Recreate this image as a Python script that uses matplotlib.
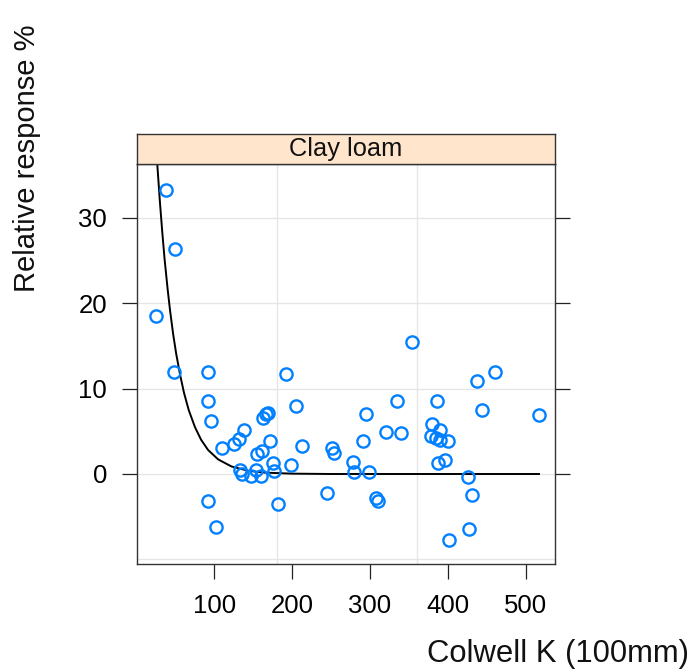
import matplotlib
matplotlib.use('Agg')
import matplotlib.pyplot as plt

plt.rcParams['font.family'] = ['Liberation Sans', 'DejaVu Sans']

# observed points: Colwell K (100mm) vs relative response %
colwell_k = [25, 37.5, 49, 47.5, 91.4, 91.4, 95.3, 91.4, 101.5, 109.8,
             125, 132, 138.5, 162, 166.5, 169.5, 172, 155, 161.6, 132.5,
             135.5, 147, 154, 160, 175, 176.6, 182.2, 191.8, 204.9, 198.3,
             212, 244.5, 251.1, 253.7, 277.7, 279, 291.4, 294.4, 298.2, 307.2,
             310.6, 320.9, 334.2, 340.2, 353.5, 379.2, 385.6, 378.3, 384.3, 389.9,
             389.9, 400.5, 387.7, 396.3, 425.4, 431.4, 426.7, 401.8, 437, 460.9,
             443.8, 517.4]
rel_response = [18.5, 33.3, 26.4, 12.0, 12.0, 8.6, 6.2, -3.2, -6.2, 3.0,
                3.5, 4.1, 5.2, 6.6, 7.0, 7.1, 3.9, 2.3, 2.7, 0.5,
                0.0, -0.2, 0.45, -0.2, 1.3, 0.3, -3.5, 11.7, 8.0, 1.1,
                3.25, -2.2, 3.0, 2.4, 1.45, 0.2, 3.9, 7.0, 0.2, -2.85,
                -3.2, 4.9, 8.6, 4.8, 15.5, 5.85, 8.6, 4.4, 4.2, 5.15,
                4.0, 3.9, 1.25, 1.6, -0.4, -2.5, -6.5, -7.7, 10.9, 12.0,
                7.5, 6.9]

# fitted response curve
curve_x = [25, 27, 30, 33, 36, 40, 43, 47, 51, 56, 61, 67, 75, 83, 92,
           105, 122, 144, 165, 200, 250, 517]
curve_y = [38.7, 35.8, 31.9, 28.4, 25.2, 21.6, 19.2, 16.4, 14.05, 11.6, 9.5,
           7.5, 5.5, 4.0, 2.8, 1.7, 0.88, 0.37, 0.16, 0.04, 0.0, 0.0]

x_ticks = [100, 200, 300, 400, 500]
y_ticks = [0, 10, 20, 30]
x_grid = [180, 360]
y_grid = [-10, 0, 10, 20, 30]
panel_title = 'Clay loam'

W, H = 689, 672
fig = plt.figure(figsize=(W / 100, H / 100), dpi=100)

# main panel and strip, placed in pixels
ax = fig.add_axes([137 / W, (H - 564) / H, 418 / W, 400 / H])
strip = fig.add_axes([137 / W, (H - 164) / H, 418 / W, 30 / H])

for gy in y_grid:
    ax.axhline(gy, color='#e6e6e6', lw=1, zorder=0)
for gx in x_grid:
    ax.axvline(gx, color='#e6e6e6', lw=1, zorder=0)

ax.plot(curve_x, curve_y, color='black', lw=1.4, zorder=2)
ax.plot(colwell_k, rel_response, 'o', mfc='none', mec='#0080ff',
        ms=8.8, mew=1.7, zorder=3)

ax.set_xlim(0.6, 537.6)
ax.set_ylim(-10.54, 36.3)
ax.set_xticks(x_ticks)
ax.set_yticks(y_ticks)
ax.tick_params(direction='out', length=11, width=0.9, pad=10.5,
               labelsize=18.5, colors='#222222', labelcolor='black',
               right=True, top=False)
for s in ax.spines.values():
    s.set_color('#333333')
    s.set_linewidth(1)

strip.set_facecolor('#ffe5cc')
strip.set_xticks([])
strip.set_yticks([])
for s in strip.spines.values():
    s.set_color('#333333')
    s.set_linewidth(1)
strip.text(0.5, 0.5, panel_title, ha='center', va='center',
           fontsize=18.3, color='#111111', transform=strip.transAxes)

fig.text(27.5 / W, 1 - 158 / H, 'Relative response %', rotation=90,
         ha='center', va='center', fontsize=21, color='#111111')
fig.text(558 / W, 1 - 654 / H, 'Colwell K (100mm)', ha='center',
         va='center', fontsize=22.3, color='#111111')

fig.savefig('out.png', dpi=100)
